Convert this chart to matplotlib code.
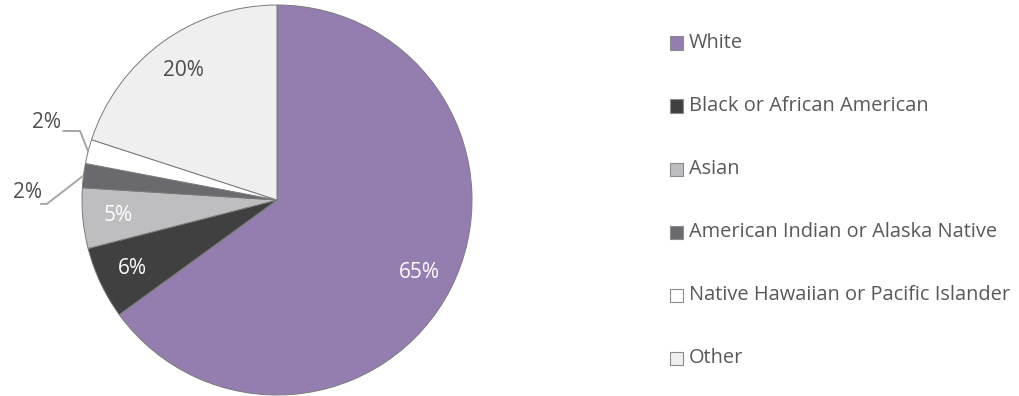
import numpy as np
import matplotlib.pyplot as plt
from matplotlib.patches import Rectangle

plt.rcParams['font.family'] = ['Open Sans', 'DejaVu Sans']

# race breakdown, percent
labels = ['White', 'Black or African American', 'Asian',
          'American Indian or Alaska Native',
          'Native Hawaiian or Pacific Islander', 'Other']
values = [65, 6, 5, 2, 2, 20]
colors = ['#947eb0', '#404040', '#bebec0', '#6a6a6e', '#ffffff', '#efefef']
pct_colors = ['white', 'white', 'white', None, None, '#4d4d4d']

fig = plt.figure(figsize=(10.19, 3.96), dpi=100)
W, H = 1019, 396
cx, cy, r = 277, 200, 195
ax = fig.add_axes([(cx - r) / W, (H - cy - r) / H, 2 * r / W, 2 * r / H])

wedges, _ = ax.pie(values, colors=colors, startangle=90, counterclock=False,
                   radius=1, wedgeprops=dict(edgecolor='#7a7a7a', linewidth=0.7))
ax.set_xlim(-1, 1)
ax.set_ylim(-1, 1)
ax.set_aspect('equal')
ax.axis('off')

# percent labels inside the big slices
for w, v, c in zip(wedges, values, pct_colors):
    if c is None:
        continue
    mid = np.deg2rad((w.theta1 + w.theta2) / 2)
    d = 0.82
    ax.text(d * np.cos(mid), d * np.sin(mid), f'{v}%', color=c,
            ha='center', va='center', fontsize=15)

# small slices get outside labels with leader lines
outside = {3: ((-1.28, 0.04), (-1.215, -0.02), (-1.18, -0.02)),
           4: ((-1.18, 0.40), (-1.10, 0.354), (-1.01, 0.354))}
for i, (txt, p0, p1) in outside.items():
    w = wedges[i]
    mid = np.deg2rad((w.theta1 + w.theta2) / 2)
    edge = (np.cos(mid), np.sin(mid))
    ax.plot([p0[0], p1[0], edge[0]], [p0[1], p1[1], edge[1]],
            color='#a6a6a6', lw=1.4, clip_on=False, solid_capstyle='butt')
    ax.text(txt[0], txt[1], f'{values[i]}%', color='#4d4d4d',
            ha='center', va='center', fontsize=15)

# legend on the right
lx, ly0, dy = 670, 43, 63
for k, (lab, col) in enumerate(zip(labels, colors)):
    y = ly0 + k * dy
    fig.add_artist(Rectangle(((lx) / W, (H - y - 6.5) / H), 13 / W, 13 / H,
                             facecolor=col, edgecolor='#8c8c8c', lw=0.8,
                             transform=fig.transFigure))
    fig.text((lx + 19) / W, (H - y) / H, lab, color='#595959',
             fontsize=14.4, ha='left', va='center')

fig.savefig('out.png', dpi=100)
